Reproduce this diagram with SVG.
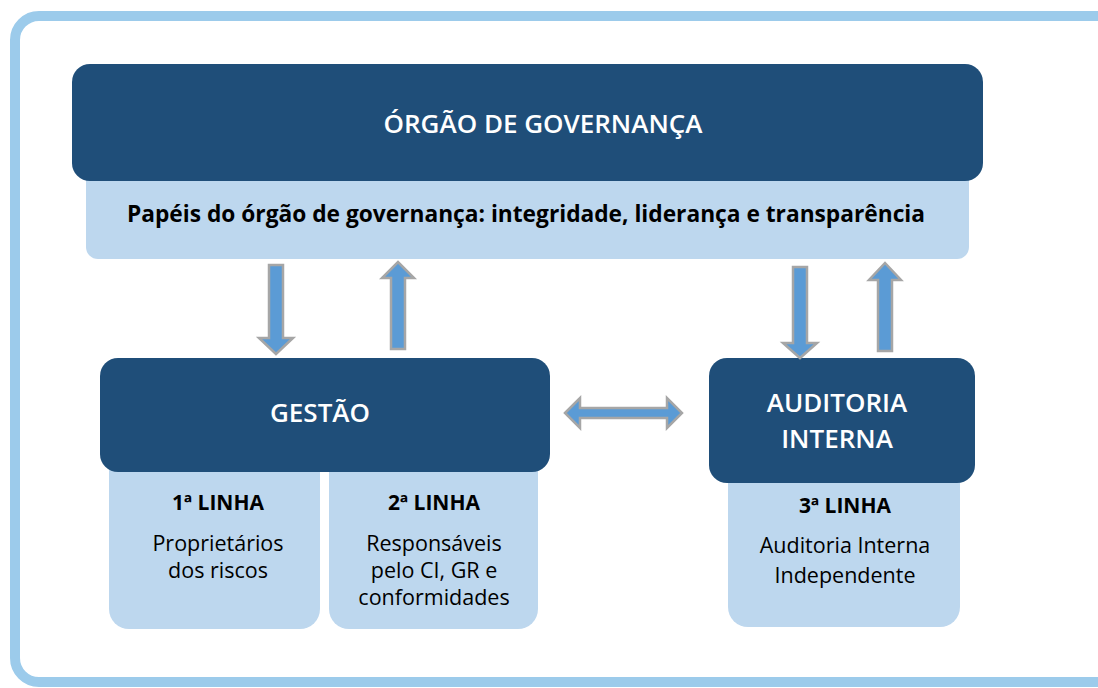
<svg xmlns="http://www.w3.org/2000/svg" width="1098" height="688" viewBox="0 0 1098 688">
<style>
.dark{fill:#1f4e79}
.light{fill:#bdd7ee}
.arrow{fill:#5b9bd5;stroke:#a6a6a6;stroke-width:2.5;stroke-linejoin:miter}
.title{font-family:"Open Sans","Liberation Sans",sans-serif;font-weight:600;font-size:26px;fill:#ffffff;text-anchor:middle}
.sub{font-family:"Open Sans","Liberation Sans",sans-serif;font-weight:700;font-size:23px;fill:#000000;text-anchor:middle}
.lbl{font-family:"Open Sans","Liberation Sans",sans-serif;font-weight:700;font-size:21px;fill:#000000;text-anchor:middle}
.body{font-family:"Open Sans","Liberation Sans",sans-serif;font-weight:400;font-size:21.5px;fill:#000000;text-anchor:middle}
</style>
<rect x="0" y="0" width="1098" height="688" fill="#ffffff"/>
<rect id="frame" x="15" y="16" width="1110" height="666" rx="24" fill="none" stroke="#9ccbeb" stroke-width="10"/>

<g id="governanca">
  <rect class="light" x="86" y="150" width="883" height="109" rx="12"/>
  <rect class="dark" x="72" y="64" width="911" height="117" rx="18"/>
  <text class="title" x="543" y="133">ÓRGÃO DE GOVERNANÇA</text>
  <text class="sub" x="526" y="222" textLength="798" lengthAdjust="spacingAndGlyphs">Papéis do órgão de governança: integridade, liderança e transparência</text>
</g>

<g id="gestao">
  <rect class="light" x="109" y="440" width="211" height="189" rx="20"/>
  <rect class="light" x="329" y="440" width="209" height="189" rx="20"/>
  <rect class="dark" x="100" y="358" width="450" height="114" rx="18"/>
  <text class="title" x="320" y="422">GESTÃO</text>
  <text class="lbl" x="218" y="510">1ª LINHA</text>
  <text class="body" x="218" y="551">Proprietários</text>
  <text class="body" x="218" y="578">dos riscos</text>
  <text class="lbl" x="434" y="510">2ª LINHA</text>
  <text class="body" x="434" y="551">Responsáveis</text>
  <text class="body" x="434" y="578">pelo CI, GR e</text>
  <text class="body" x="434" y="605">conformidades</text>
</g>

<g id="auditoria">
  <rect class="light" x="728" y="450" width="232" height="177" rx="20"/>
  <rect class="dark" x="709" y="358" width="266" height="125" rx="18"/>
  <text class="title" x="837" y="412">AUDITORIA</text>
  <text class="title" x="837" y="448">INTERNA</text>
  <text class="lbl" x="845" y="513">3ª LINHA</text>
  <text class="body" x="845" y="553">Auditoria Interna</text>
  <text class="body" x="845" y="583">Independente</text>
</g>

<g id="connectors">
  <path class="arrow" d="M269,265 H283 V338 H293 L276,354 L259,338 H269 Z"/>
  <path class="arrow" d="M391,349 H405 V278 H414 L398,262 L382,278 H391 Z"/>
  <path class="arrow" d="M793,267 H807 V343 H817 L800,358 L783,343 H793 Z"/>
  <path class="arrow" d="M878,351 H892 V280 H901 L885,263 L869,280 H878 Z"/>
  <path class="arrow" d="M565,413 L580,398 V408 H667 V398 L682,413 L667,428 V418 H580 V428 Z"/>
</g>
</svg>
